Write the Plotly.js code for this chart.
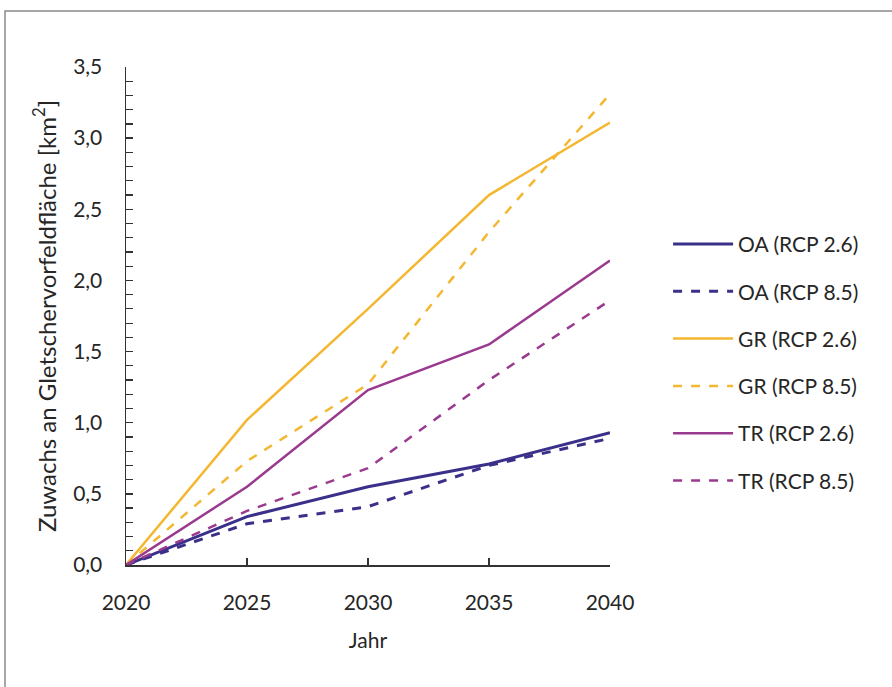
<!DOCTYPE html>
<html>
<head>
<meta charset="utf-8">
<script src="https://cdn.plot.ly/plotly-3.0.1.min.js"></script>
<style>html,body{margin:0;padding:0;background:#fff;}#chart{width:892px;height:687px;}</style>
</head>
<body>
<div id="chart"></div>
<script>
const years = [2020, 2025, 2030, 2035, 2040];
const oa26 = [0, 0.34, 0.55, 0.71, 0.93];
const oa85 = [0, 0.29, 0.41, 0.70, 0.89];
const gr26 = [0, 1.02, 1.80, 2.60, 3.11];
const gr85 = [0, 0.73, 1.27, 2.34, 3.31];
const tr26 = [0, 0.55, 1.23, 1.55, 2.14];
const tr85 = [0, 0.38, 0.68, 1.30, 1.86];
const names = ["OA (RCP 2.6)", "OA (RCP 8.5)", "GR (RCP 2.6)", "GR (RCP 8.5)", "TR (RCP 2.6)", "TR (RCP 8.5)"];
const xTickLabels = ["2020", "2025", "2030", "2035", "2040"];

const cOA = "#3a3089", cGR = "#f4b731", cTR = "#9a3a8f";
const series = [
  [oa26, cOA, "solid", 3], [oa85, cOA, "dash", 3],
  [gr26, cGR, "solid", 2.5], [gr85, cGR, "dash", 2.5],
  [tr26, cTR, "solid", 2.5], [tr85, cTR, "dash", 2.5]
];
const traces = series.map((s, i) => ({
  x: years, y: s[0], name: names[i], type: "scatter", mode: "lines",
  line: {color: s[1], dash: s[2], width: s[3]}, legendgroup: "g" + i
}));

const font = "Lato, 'Open Sans', sans-serif";
const layout = {
  width: 892, height: 687,
  margin: {l: 126, r: 282, t: 67, b: 122},
  paper_bgcolor: "#fff", plot_bgcolor: "#fff",
  separators: ",.",
  font: {family: font, size: 21, color: "#262626"},
  showlegend: true,
  legend: {x: 1.12, y: 0.685, xanchor: "left", yanchor: "top",
           font: {family: font, size: 21, color: "#262626"},
           tracegroupgap: 17, itemwidth: 60, bgcolor: "rgba(0,0,0,0)"},
  xaxis: {range: [2020, 2040], tickvals: years, ticktext: xTickLabels,
          ticks: "inside", ticklen: 7, tickcolor: "#333", tickwidth: 1.5,
          showline: true, linecolor: "#333", linewidth: 1.5, showgrid: false, zeroline: false,
          ticklabelstandoff: 18,
          title: {text: "Jahr", standoff: 20, font: {size: 21}}},
  yaxis: {range: [0, 3.5], dtick: 0.5, tick0: 0, tickformat: ".1f",
          ticks: "inside", ticklen: 7, tickcolor: "#333", tickwidth: 1.5,
          minor: {dtick: 0.1, ticks: "inside", ticklen: 7, tickcolor: "#333", tickwidth: 1.2},
          showline: true, linecolor: "#333", linewidth: 1.5, showgrid: false, zeroline: false,
          ticklabelstandoff: 18,
          title: {text: "Zuwachs an Gletschervorfeldfläche [km<sup>2</sup>]", standoff: 10, font: {size: 24}}},
  shapes: [{type: "rect", xref: "paper", yref: "paper",
            x0: -0.25, x1: 1.6, y0: -0.26, y1: 1.1124,
            line: {color: "#8a8a8a", width: 1.5}}]
};
Plotly.newPlot("chart", traces, layout, {displayModeBar: false, staticPlot: true});
</script>
</body>
</html>
